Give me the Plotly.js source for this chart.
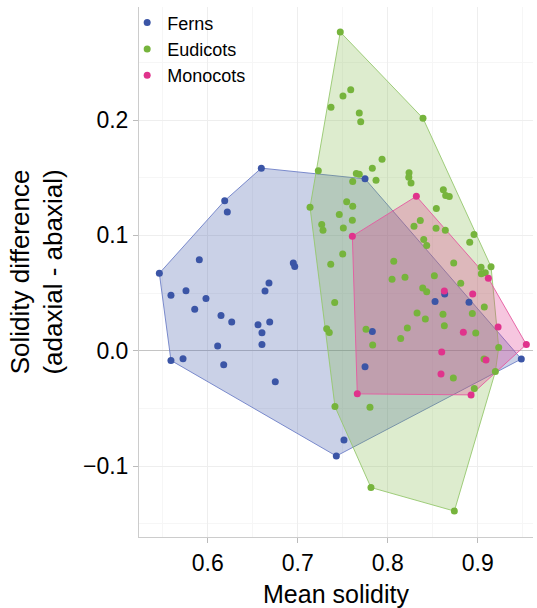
<!DOCTYPE html>
<html>
<head>
<meta charset="utf-8">
<script src="https://cdn.plot.ly/plotly-3.0.1.min.js"></script>
<style>html,body{margin:0;padding:0;background:#fff;}#chart{width:537px;height:608px;}</style>
</head>
<body>
<div id="chart"></div>
<script>
// ---- Data ----
const groups = ["Ferns", "Eudicots", "Monocots"];

const fernsX = [0.5463,0.5592,0.5759,0.5907,0.5981,0.5856,0.6189,0.6218,0.6596,0.6681,0.6637,0.6951,0.6967,
  0.6148,0.6267,0.6559,0.6689,0.6603,0.6111,0.6603,0.5592,0.5726,0.6178,0.6751,0.7514,0.7429,0.7748,
  0.8526,0.8903,0.8633,0.7829,0.7748,0.9484];
const fernsY = [0.0671,0.0481,0.0521,0.0788,0.0452,0.0360,0.1301,0.1203,0.1583,0.0587,0.0518,0.0760,0.0731,
  0.0305,0.0250,0.0225,0.0250,0.0155,0.0041,0.0054,-0.0084,-0.0069,-0.0121,-0.0268,-0.0775,-0.0913,0.1490,
  0.0426,0.0421,0.0492,0.0167,-0.0138,-0.0072];

const eudicotsX = [0.7473,0.7589,0.7503,0.7370,0.7684,0.7700,0.8392,0.7937,0.7829,0.7229,0.7651,0.7684,0.7611,
  0.7870,0.8237,0.8234,0.8259,0.8618,0.8644,0.8684,0.7137,0.7544,0.7611,0.7462,0.7607,0.8540,0.8362,0.8292,
  0.7267,0.7281,0.7507,0.8537,0.8640,0.8959,0.8911,0.8400,0.8433,0.7500,0.7367,0.8067,0.8733,0.9037,0.9084,
  0.9148,0.9040,0.8048,0.8192,0.8518,0.8811,0.8389,0.8433,0.7411,0.9073,0.8326,0.8418,0.8614,0.8940,0.8629,
  0.8218,0.8144,0.7759,0.7833,0.7322,0.7351,0.8978,0.9233,0.9196,0.8729,0.8962,0.7414,0.7803,0.7814,0.8740,0.9070];
const eudicotsY = [0.2763,0.2263,0.2208,0.2110,0.2061,0.1986,0.2015,0.1661,0.1583,0.1560,0.1537,0.1531,0.1468,
  0.1477,0.1543,0.1503,0.1455,0.1396,0.1345,0.1337,0.1244,0.1291,0.1252,0.1180,0.1131,0.1232,0.1129,0.1079,
  0.1094,0.1045,0.1065,0.1062,0.1045,0.1008,0.0941,0.0965,0.0913,0.0838,0.0749,0.0775,0.0760,0.0723,0.0676,
  0.0728,0.0667,0.0619,0.0636,0.0650,0.0585,0.0544,0.0512,0.0419,0.0380,0.0326,0.0276,0.0317,0.0322,0.0216,
  0.0196,0.0106,0.0187,0.0049,0.0190,0.0158,0.0153,0.0028,-0.0181,-0.0236,-0.0328,-0.0484,-0.0490,-0.1186,-0.1390,-0.0072];

const monocotsX = [0.8318,0.7607,0.9118,0.8629,0.8944,0.9226,0.8840,0.9540,0.8600,0.9092,0.8592,0.7662,0.8926];
const monocotsY = [0.1339,0.0993,0.0628,0.0518,0.0492,0.0205,0.0161,0.0054,-0.0011,-0.0080,-0.0201,-0.0374,-0.0383];

const xTickVals = [0.6, 0.7, 0.8, 0.9];
const yTickVals = [-0.1, 0.0, 0.1, 0.2];
const yTickText = ["\u22120.1", "0.0", "0.1", "0.2"];

// ---- Styles ----
const pointColors = ["#3b55a6", "#76b43c", "#e0338c"];
const fillColors  = ["rgba(59,85,166,0.27)", "rgba(118,180,60,0.25)", "rgba(224,51,140,0.28)"];
const lineColors  = ["rgba(110,128,200,0.9)", "rgba(150,200,110,0.9)", "rgba(230,90,160,0.9)"];

// convex hull (monotone chain) computed from the data arrays
function hull(xs, ys) {
  const pts = xs.map((x, i) => [x, ys[i]]).sort((a, b) => a[0] - b[0] || a[1] - b[1]);
  const cross = (o, a, b) => (a[0]-o[0])*(b[1]-o[1]) - (a[1]-o[1])*(b[0]-o[0]);
  const lower = [], upper = [];
  for (const p of pts) { while (lower.length >= 2 && cross(lower[lower.length-2], lower[lower.length-1], p) <= 0) lower.pop(); lower.push(p); }
  for (let i = pts.length - 1; i >= 0; i--) { const p = pts[i]; while (upper.length >= 2 && cross(upper[upper.length-2], upper[upper.length-1], p) <= 0) upper.pop(); upper.push(p); }
  upper.pop(); lower.pop();
  const h = lower.concat(upper); h.push(h[0]);
  return { x: h.map(p => p[0]), y: h.map(p => p[1]) };
}

const data = [[fernsX, fernsY], [eudicotsX, eudicotsY], [monocotsX, monocotsY]];
const traces = [];
data.forEach((d, i) => {
  const h = hull(d[0], d[1]);
  traces.push({ type: "scatter", mode: "lines", x: h.x, y: h.y, fill: "toself",
    fillcolor: fillColors[i], line: { color: lineColors[i], width: 1 }, showlegend: false, hoverinfo: "skip" });
});
data.forEach((d, i) => {
  traces.push({ type: "scatter", mode: "markers", name: groups[i], x: d[0], y: d[1],
    marker: { color: pointColors[i], size: 7 } });
});

const font = "Liberation Sans, Arial, Helvetica, sans-serif";
const layout = {
  width: 537, height: 608,
  margin: { l: 139, r: 4, t: 5, b: 71 },
  paper_bgcolor: "#ffffff", plot_bgcolor: "#ffffff",
  font: { family: font, color: "#000" },
  showlegend: true,
  legend: { x: -0.03, y: 1.005, xanchor: "left", yanchor: "top", bgcolor: "rgba(0,0,0,0)",
    font: { size: 18, family: font, color: "#000" }, itemwidth: 30, tracegroupgap: 0, borderwidth: 0 },
  xaxis: {
    range: [0.5237, 0.9614], tickvals: xTickVals, ticktext: xTickVals.map(v => v.toFixed(1)),
    ticks: "outside", ticklen: 5, tickcolor: "#bbbbbb",
    showline: true, linecolor: "#cccccc", linewidth: 1,
    showgrid: true, gridcolor: "#eeeeee", gridwidth: 1, zeroline: false,
    minor: { dtick: 0.05, tick0: 0.55, showgrid: true, gridcolor: "#f6f6f6", ticks: "" },
    tickfont: { size: 23, family: font, color: "#000" },
    title: { text: "Mean solidity", font: { size: 25, family: font, color: "#000" }, standoff: 10 }
  },
  yaxis: {
    range: [-0.1615, 0.298], tickvals: yTickVals, ticktext: yTickText,
    ticks: "outside", ticklen: 5, tickcolor: "#bbbbbb",
    showline: true, linecolor: "#cccccc", linewidth: 1,
    showgrid: true, gridcolor: "#eeeeee", gridwidth: 1,
    zeroline: true, zerolinecolor: "#c4c4c4", zerolinewidth: 1.5,
    minor: { dtick: 0.05, tick0: 0.05, showgrid: true, gridcolor: "#f6f6f6", ticks: "" },
    tickfont: { size: 23, family: font, color: "#000" },
    title: { text: "Solidity difference<br>(adaxial - abaxial)", font: { size: 26, family: font, color: "#000" }, standoff: 12 }
  }
};

Plotly.newPlot("chart", traces, layout, { displayModeBar: false, staticPlot: true });
</script>
</body>
</html>
